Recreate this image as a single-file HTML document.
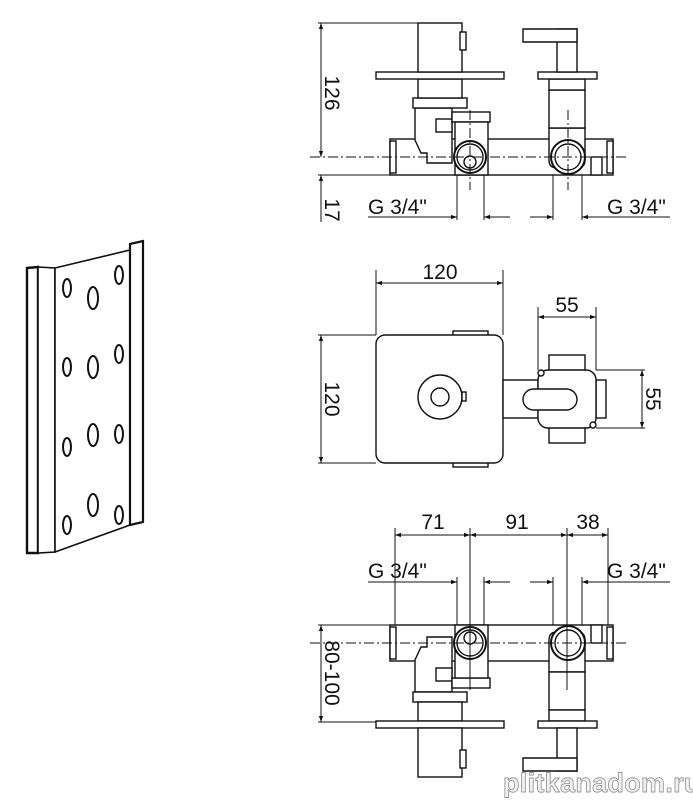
<!DOCTYPE html>
<html><head><meta charset="utf-8"><style>
html,body{margin:0;padding:0;background:#fff;}
svg{display:block;}
text{font-family:"Liberation Sans",sans-serif;fill:#111;}
</style></head><body>
<svg width="693" height="801" viewBox="0 0 693 801" xmlns="http://www.w3.org/2000/svg">
<defs>
<marker id="a" viewBox="0 0 10 10" refX="10" refY="5" markerWidth="10" markerHeight="6" orient="auto-start-reverse" markerUnits="userSpaceOnUse"><path d="M0,1.5 L10,5 L0,8.5 z" fill="#111"/></marker>
<g id="valve" fill="#fff" stroke="#111" stroke-width="1.4">
  <rect x="390" y="139" width="223" height="36"/>
  <rect x="390" y="141" width="6" height="32"/>
  <rect x="607" y="141" width="6" height="32"/>
  <path d="M415,108 L415,140 L421,153 L427,153 L427,163 L452,163 L452,108 Z"/>
  <rect x="436" y="119" width="16" height="13"/>
  <rect x="452" y="112" width="38" height="10"/>
  <rect x="455" y="122" width="33" height="53"/>
  <circle cx="470" cy="157" r="16" stroke-width="2"/>
  <circle cx="470" cy="157" r="13"/>
  <circle cx="470" cy="162" r="6"/>
  <rect x="413" y="98" width="54" height="10"/>
  <rect x="418" y="79" width="44" height="19"/>
  <rect x="376" y="72" width="128" height="7"/>
  <rect x="418" y="23" width="44" height="49"/>
  <rect x="460" y="32" width="6" height="18"/>
  <path d="M549,128 L549,160 Q549,168 557,168 L577,168 Q585,168 585,160 L585,128 Z"/>
  <circle cx="568" cy="157" r="17" stroke-width="2"/>
  <circle cx="568" cy="157" r="13"/>
  <rect x="549" y="90" width="36" height="38"/>
  <rect x="549" y="79" width="36" height="11"/>
  <rect x="538" y="72" width="59" height="7"/>
  <rect x="557" y="29" width="20" height="43"/>
  <path d="M523,29 L577,29 L577,42 L557,42 L523,42 Z"/>
  <rect x="591" y="157" width="11" height="18"/>
</g>
</defs>

<g fill="#fff" stroke="#111" stroke-width="1.6">
  <path d="M27,268 L38,267 L38,553 L27,553 Z" stroke-width="2.4"/>
  <path d="M38,267 L55,268 L55,552 L38,553 Z"/>
  <path d="M55,268 L130,250 L130,525 L55,552 Z"/>
  <path d="M130,244 L143,241 L143,522 L130,525 Z" stroke-width="2.2"/>
  <ellipse cx="67" cy="288" rx="4" ry="9" stroke-width="2"/>
  <ellipse cx="67" cy="367" rx="4" ry="9" stroke-width="2"/>
  <ellipse cx="67" cy="447" rx="4" ry="9" stroke-width="2"/>
  <ellipse cx="67" cy="525" rx="4" ry="9" stroke-width="2"/>
  <ellipse cx="93" cy="298" rx="5" ry="11" stroke-width="2"/>
  <ellipse cx="93" cy="367" rx="5" ry="11" stroke-width="2"/>
  <ellipse cx="93" cy="435" rx="5" ry="11" stroke-width="2"/>
  <ellipse cx="93" cy="505" rx="5" ry="11" stroke-width="2"/>
  <ellipse cx="119" cy="275" rx="4" ry="9" stroke-width="2"/>
  <ellipse cx="119" cy="354" rx="4" ry="9" stroke-width="2"/>
  <ellipse cx="119" cy="434" rx="4" ry="9" stroke-width="2"/>
  <ellipse cx="119" cy="515" rx="4" ry="9" stroke-width="2"/>
</g>

<use href="#valve"/>
<g stroke="#111" stroke-width="1" fill="none">
  <line x1="318" y1="23" x2="460" y2="23"/>
  <line x1="318" y1="175" x2="390" y2="175"/>
  <line x1="321" y1="23" x2="321" y2="157" marker-start="url(#a)" marker-end="url(#a)"/>
  <line x1="321" y1="175" x2="321" y2="222" marker-start="url(#a)"/>
  <line x1="310" y1="157" x2="627" y2="157" stroke-dasharray="10,3,2,3"/>
  <line x1="470" y1="110" x2="470" y2="190" stroke-dasharray="10,3,2,3"/>
  <line x1="568" y1="110" x2="568" y2="190" stroke-dasharray="10,3,2,3"/>
  <line x1="457" y1="175" x2="457" y2="220"/><line x1="484" y1="175" x2="484" y2="220"/>
  <line x1="553" y1="175" x2="553" y2="220"/><line x1="582" y1="175" x2="582" y2="220"/>
  <line x1="368" y1="217" x2="457" y2="217" marker-end="url(#a)"/>
  <line x1="510" y1="217" x2="484" y2="217" marker-end="url(#a)"/>
  <line x1="530" y1="217" x2="553" y2="217" marker-end="url(#a)"/>
  <line x1="670" y1="217" x2="582" y2="217" marker-end="url(#a)"/>
</g>
<text x="368" y="214" font-size="21">G 3/4"</text>
<text x="607" y="214" font-size="21">G 3/4"</text>
<text transform="translate(325,93) rotate(90)" font-size="21" text-anchor="middle">126</text>
<text transform="translate(325,210) rotate(90)" font-size="21" text-anchor="middle">17</text>

<g fill="#fff" stroke="#111" stroke-width="1.4">
  <rect x="453" y="331" width="35" height="5"/>
  <rect x="453" y="462" width="35" height="5"/>
  <rect x="376" y="335" width="127" height="128" rx="9"/>
  <circle cx="440" cy="397" r="22"/>
  <circle cx="440" cy="397" r="9"/>
  <rect x="462" y="392" width="4" height="9"/>
  <rect x="503" y="380" width="35" height="38"/>
  <rect x="549" y="355" width="36" height="88"/>
  <rect x="596" y="380" width="10" height="38"/>
  <rect x="538" y="370" width="58" height="58" rx="10"/>
  <circle cx="541" cy="373" r="3"/><circle cx="593" cy="425" r="3"/>
  <rect x="523" y="389" width="54" height="21" rx="10.5"/>
</g>
<g stroke="#111" stroke-width="1" fill="none">
  <line x1="376" y1="270" x2="376" y2="335"/><line x1="503" y1="270" x2="503" y2="335"/>
  <line x1="376" y1="283" x2="503" y2="283" marker-start="url(#a)" marker-end="url(#a)"/>
  <line x1="318" y1="335" x2="376" y2="335"/><line x1="318" y1="463" x2="376" y2="463"/>
  <line x1="321" y1="335" x2="321" y2="463" marker-start="url(#a)" marker-end="url(#a)"/>
  <line x1="538" y1="307" x2="538" y2="370"/><line x1="596" y1="307" x2="596" y2="370"/>
  <line x1="538" y1="317" x2="596" y2="317" marker-start="url(#a)" marker-end="url(#a)"/>
  <line x1="596" y1="370" x2="645" y2="370"/><line x1="596" y1="428" x2="645" y2="428"/>
  <line x1="642" y1="370" x2="642" y2="428" marker-start="url(#a)" marker-end="url(#a)"/>
</g>
<text x="440" y="279" font-size="21" text-anchor="middle">120</text>
<text x="567" y="312" font-size="21" text-anchor="middle">55</text>
<text transform="translate(325,399) rotate(90)" font-size="21" text-anchor="middle">120</text>
<text transform="translate(646,399) rotate(90)" font-size="21" text-anchor="middle">55</text>

<use href="#valve" transform="translate(0,800) scale(1,-1)"/>
<g stroke="#111" stroke-width="1" fill="none">
  <line x1="310" y1="643" x2="627" y2="643" stroke-dasharray="10,3,2,3"/>
  <line x1="395" y1="528" x2="395" y2="625"/>
  <line x1="470" y1="528" x2="470" y2="690"/>
  <line x1="567" y1="528" x2="567" y2="690"/>
  <line x1="608" y1="528" x2="608" y2="625"/>
  <line x1="395" y1="535" x2="470" y2="535" marker-start="url(#a)" marker-end="url(#a)"/>
  <line x1="470" y1="535" x2="567" y2="535" marker-start="url(#a)" marker-end="url(#a)"/>
  <line x1="567" y1="535" x2="608" y2="535" marker-start="url(#a)" marker-end="url(#a)"/>
  <line x1="457" y1="577" x2="457" y2="625"/><line x1="484" y1="577" x2="484" y2="625"/>
  <line x1="553" y1="577" x2="553" y2="625"/><line x1="582" y1="577" x2="582" y2="625"/>
  <line x1="368" y1="582" x2="457" y2="582" marker-end="url(#a)"/>
  <line x1="510" y1="582" x2="484" y2="582" marker-end="url(#a)"/>
  <line x1="530" y1="582" x2="553" y2="582" marker-end="url(#a)"/>
  <line x1="670" y1="582" x2="582" y2="582" marker-end="url(#a)"/>
  <line x1="318" y1="625" x2="390" y2="625"/><line x1="318" y1="722" x2="376" y2="722"/>
  <line x1="321" y1="625" x2="321" y2="722" marker-start="url(#a)" marker-end="url(#a)"/>
</g>
<text x="433" y="529" font-size="21" text-anchor="middle">71</text>
<text x="517" y="529" font-size="21" text-anchor="middle">91</text>
<text x="588" y="529" font-size="21" text-anchor="middle">38</text>
<text x="368" y="578" font-size="21">G 3/4"</text>
<text x="607" y="578" font-size="21">G 3/4"</text>
<text transform="translate(325,673) rotate(90)" font-size="21" text-anchor="middle">80-100</text>

<text x="503" y="792" font-size="27" style="fill:#f2f2f2;stroke:#999;stroke-width:0.9;font-weight:bold;letter-spacing:0.3px">plitkanadom.ru</text>
</svg>
</body></html>
